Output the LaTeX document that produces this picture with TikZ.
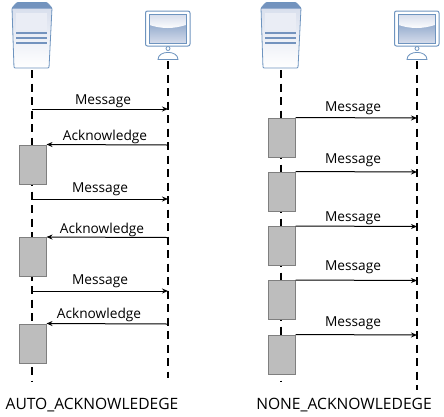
\documentclass[tikz,border=0pt]{standalone}
\usepackage{fontspec}
\setmainfont{Open Sans}
\usepackage{tikz}
\usetikzlibrary{arrows.meta}

\definecolor{iconline}{HTML}{6E94BF}
\definecolor{iconpale}{HTML}{D5DCEB}
\definecolor{icondark}{HTML}{7393BE}
\definecolor{barfill}{HTML}{BDBDBD}
\definecolor{barline}{HTML}{7F7F7F}

\tikzset{
    icon_box/.style={minimum size=0pt,inner sep=0pt},
    life_line/.style={draw=black,line width=2pt,dash pattern=on 8pt off 5.5pt},
    msg_edge/.style={draw=black,line width=1pt},
    bar/.style={draw=barline,line width=1pt,fill=barfill,minimum width=27pt,minimum height=39pt,inner sep=0pt},
    msg_label/.style={font=\fontsize{13.7}{15}\selectfont,inner sep=0pt},
    title_label/.style={font=\fontsize{15.6}{17}\selectfont,inner sep=0pt},
    server_icon/.pic={
        \draw [draw=iconline,line width=0.8pt,top color=iconpale,bottom color=white,rounded corners=1pt]
            (-20,-28) -- (-18,32) -- (17,32) -- (20,-28) -- (15,-33.5) -- (-15,-33.5) -- cycle;
        \fill [icondark] (-20,-27.5) -- (-15,-33.5) -- (15,-33.5) -- (20,-27.5) -- cycle;
        \fill [white!50!iconpale] (-16,-23) rectangle (15,-6);
        \foreach \y in {-3,2,7} {
            \draw [icondark,line width=1.2pt] (-16,\y) -- (15,\y);
        }
    },
    monitor_icon/.pic={
        \draw [draw=iconline,line width=1pt,fill=white,rounded corners=2pt] (-22.5,-25) rectangle (22,10);
        \shade [top color=icondark,bottom color=iconpale] (-18.5,-22) rectangle (18,7);
        \shade [top color=iconpale,bottom color=white] (-18.5,-22) -- (18,-22) -- (18,-11) .. controls (5,-7) and (-6,-7) .. (-18.5,-11) -- cycle;
        \draw [draw=iconline,line width=0.7pt] (-18.5,-22) rectangle (18,7);
        \draw [draw=iconline,line width=0.8pt,fill=white] (0,12.5) circle (2);
        \draw [draw=iconline,line width=0.8pt,fill=white] (-10,23.5) .. controls (-10,14) and (10,14) .. (10,23.5) -- cycle;
    }
}

\begin{document}
\begin{tikzpicture}[x=1pt,y=-1pt]
\useasboundingbox (0,0) rectangle (444,416);

% icons
\pic at (32,36) {server_icon};
\pic at (168,36) {monitor_icon};
\pic at (281,36) {server_icon};
\pic at (417,36) {monitor_icon};
\node [icon_box] (s1) at (32,70) {};
\node [icon_box] (c1) at (168,61) {};
\node [icon_box] (s2) at (281,70) {};
\node [icon_box] (c2) at (417,61) {};
\coordinate (s1_end) at (32,382);
\coordinate (c1_end) at (168,378);
\coordinate (s2_end) at (281,382);
\coordinate (c2_end) at (417,390);

\path [life_line] (s1) -- (s1_end);
\path [life_line] (c1) -- (c1_end);
\path [life_line] (s2) -- (s2_end);
\path [life_line] (c2) -- (c2_end);

\begin{scope}[every node/.style={bar}]
    \node (a1) at (32.5,164.5) {};
    \node (a2) at (32.5,257) {};
    \node (a3) at (32.5,343.5) {};
    \node (n1) at (281.5,137.5) {};
    \node (n2) at (281.5,191.5) {};
    \node (n3) at (281.5,246) {};
    \node (n4) at (281.5,300) {};
    \node (n5) at (281.5,354.5) {};
\end{scope}

% points on the lines
\coordinate (m1s) at (32,109);
\coordinate (m1c) at (168,109);
\coordinate (k1c) at (168,145);
\coordinate (m2s) at (32,199);
\coordinate (m2c) at (168,199);
\coordinate (k2c) at (168,237.5);
\coordinate (m3s) at (32,291);
\coordinate (m3c) at (168,291);
\coordinate (k3c) at (168,324);
\coordinate (r1) at (417,118);
\coordinate (r2) at (417,172);
\coordinate (r3) at (417,226.5);
\coordinate (r4) at (417,280.5);
\coordinate (r5) at (417,335);

\begin{scope}[>={Stealth[black,length=6pt,width=5pt]}]
    \path [->] (m1s) edge [msg_edge] (m1c);
    \path [->] (k1c) edge [msg_edge] (a1.north east);
    \path [->] (m2s) edge [msg_edge] (m2c);
    \path [->] (k2c) edge [msg_edge] (a2.north east);
    \path [->] (m3s) edge [msg_edge] (m3c);
    \path [->] (k3c) edge [msg_edge] (a3.north east);
    \path [->] (n1.north east) edge [msg_edge] (r1);
    \path [->] (n2.north east) edge [msg_edge] (r2);
    \path [->] (n3.north east) edge [msg_edge] (r3);
    \path [->] (n4.north east) edge [msg_edge] (r4);
    \path [->] (n5.north east) edge [msg_edge] (r5);
\end{scope}

\begin{scope}[every node/.style={msg_label}]
    \node (l1) at (103,101) {Message};
    \node (l2) at (105,137) {Acknowledge};
    \node (l3) at (100,189) {Message};
    \node (l4) at (102,230) {Acknowledge};
    \node (l5) at (100,281) {Message};
    \node (l6) at (99,315) {Acknowledge};
    \node (l7) at (353,108) {Message};
    \node (l8) at (353,160) {Message};
    \node (l9) at (353,218) {Message};
    \node (l10) at (353,267) {Message};
    \node (l11) at (353,323) {Message};
\end{scope}

\node [title_label] (t1) at (92,405) {AUTO\_ACKNOWLEDEGE};
\node [title_label] (t2) at (344,405) {NONE\_ACKNOWLEDEGE};
\end{tikzpicture}
\end{document}
